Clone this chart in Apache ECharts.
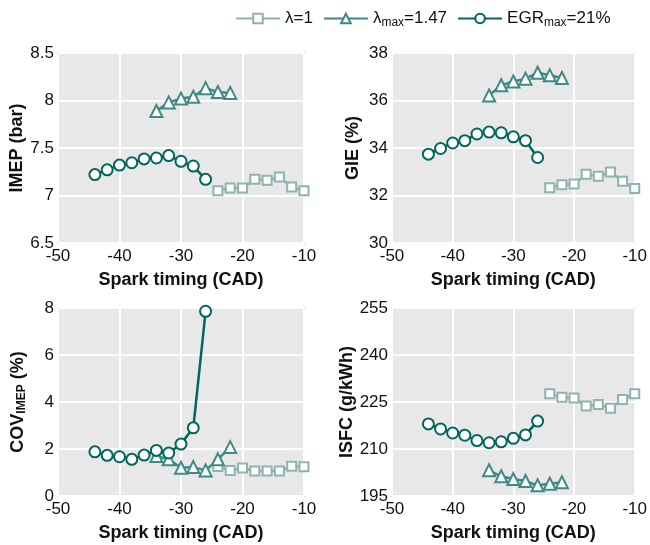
<!DOCTYPE html>
<html><head><meta charset="utf-8">
<script src="https://cdn.jsdelivr.net/npm/echarts@6/dist/echarts.min.js"></script>
<style>html,body{margin:0;padding:0;background:#fff}#c{width:650px;height:545px}</style>
</head><body><div id="c"></div>
<script>
// Spark timing (CAD) for each case
const sparkL1 = [-24, -22, -20, -18, -16, -14, -12, -10];
const sparkLmax = [-34, -32, -30, -28, -26, -24, -22];
const sparkEGR = [-44, -42, -40, -38, -36, -34, -32, -30, -28, -26];

// IMEP (bar)
const imepL1 = [7.05, 7.08, 7.08, 7.17, 7.16, 7.195, 7.09, 7.05];
const imepLmax = [7.89, 7.98, 8.02, 8.04, 8.13, 8.09, 8.08];
const imepEGR = [7.22, 7.27, 7.32, 7.345, 7.385, 7.395, 7.42, 7.36, 7.31, 7.17];

// GIE (%)
const gieL1 = [32.33, 32.45, 32.48, 32.89, 32.81, 32.99, 32.6, 32.3];
const gieLmax = [36.21, 36.64, 36.8, 36.92, 37.17, 37.06, 36.95];
const gieEGR = [33.74, 33.98, 34.21, 34.31, 34.59, 34.67, 34.64, 34.47, 34.31, 33.6];

// COV_IMEP (%)
const covL1 = [1.26, 1.09, 1.19, 1.06, 1.06, 1.06, 1.27, 1.25];
const covLmax = [1.7, 1.56, 1.2, 1.23, 1.09, 1.56, 2.08];
const covEGR = [1.88, 1.73, 1.67, 1.56, 1.74, 1.94, 1.83, 2.21, 2.9, 7.86];

// ISFC (g/kWh)
const isfcL1 = [227.6, 226.5, 226.3, 223.7, 224.2, 223.0, 225.8, 227.6];
const isfcLmax = [203.2, 201.3, 200.4, 199.8, 198.4, 198.9, 199.4];
const isfcEGR = [218.0, 216.4, 215.1, 214.4, 212.7, 212.0, 212.3, 213.4, 214.5, 218.9];

const xTicks = [-50, -40, -30, -20, -10];
const names = ['λ=1', 'λmax=1.47', 'EGRmax=21%'];
const colors = ['#8fb3ae', '#3f8a84', '#00665e'];

const zip = (xs, ys) => xs.map((x, i) => [x, ys[i]]);

const FONT = 'Liberation Sans, Arial, sans-serif';
const grids = [
  {left: 58, top: 53, width: 246, height: 190},
  {left: 392, top: 53, width: 248, height: 190},
  {left: 58, top: 308, width: 246, height: 188},
  {left: 392, top: 308, width: 248, height: 188}
].map(g => Object.assign(g, {show: true, backgroundColor: '#e8e8e8', borderColor: '#d3d3d3', borderWidth: 2, containLabel: false}));

const yConf = [
  {min: 6.5, max: 8.5, interval: 0.5, name: 'IMEP (bar)', fmt: v => v === 7 || v === 8 ? String(v) : v.toFixed(1)},
  {min: 30, max: 38, interval: 2, name: 'GIE (%)', fmt: v => String(v)},
  {min: 0, max: 8, interval: 2, name: 'COV{sub|IMEP} (%)', fmt: v => String(v)},
  {min: 195, max: 255, interval: 15, name: 'ISFC (g/kWh)', fmt: v => String(v)}
];

const xAxes = grids.map((g, i) => ({
  type: 'value', gridIndex: i, min: -50, max: -10, interval: 10,
  name: 'Spark timing (CAD)', nameLocation: 'middle', nameGap: 28,
  nameTextStyle: {fontFamily: FONT, fontWeight: 'bold', fontSize: 18, color: '#111'},
  axisLine: {show: false}, axisTick: {show: false},
  axisLabel: {fontFamily: FONT, fontSize: 17, color: '#111', margin: 5},
  splitLine: {show: true, lineStyle: {color: '#ffffff', width: 2}}
}));

const yAxes = yConf.map((c, i) => ({
  type: 'value', gridIndex: i, min: c.min, max: c.max, interval: c.interval,
  name: c.name, nameLocation: 'middle', nameGap: 30, nameRotate: 90,
  nameTextStyle: {fontFamily: FONT, fontWeight: 'bold', fontSize: 18, color: '#111',
    rich: {sub: {fontFamily: FONT, fontWeight: 'bold', fontSize: 12, color: '#111', verticalAlign: 'bottom', padding: [8, 0, 0, 0]}}},
  axisLine: {show: false}, axisTick: {show: false},
  axisLabel: {fontFamily: FONT, fontSize: 17, color: '#111', margin: 4, formatter: c.fmt},
  splitLine: {show: true, lineStyle: {color: '#ffffff', width: 2}}
}));

const dataSets = [
  [imepL1, imepLmax, imepEGR],
  [gieL1, gieLmax, gieEGR],
  [covL1, covLmax, covEGR],
  [isfcL1, isfcLmax, isfcEGR]
];
const xs = [sparkL1, sparkLmax, sparkEGR];
const symbols = ['emptyRect', 'emptyTriangle', 'emptyCircle'];
const sizes = [9, 12, 11];

const series = [];
dataSets.forEach((ds, gi) => {
  ds.forEach((ys, k) => {
    series.push({
      type: 'line', name: names[k], xAxisIndex: gi, yAxisIndex: gi,
      data: zip(xs[k], ys), symbol: symbols[k], symbolSize: sizes[k],
      color: colors[k],
      lineStyle: {color: colors[k], width: 2.5},
      itemStyle: {color: colors[k], borderWidth: 2.5, borderColor: colors[k]},
      z: 2 + k, animation: false
    });
  });
});

const chart = echarts.init(document.getElementById('c'), null, {renderer: 'canvas'});
chart.setOption({
  animation: false,
  grid: grids,
  xAxis: xAxes,
  yAxis: yAxes,
  legend: {
    left: 230, top: 5, itemWidth: 44, itemHeight: 12, itemGap: 10,
    data: names,
    formatter: n => n.replace('max', '{sub|max}'),
    textStyle: {fontFamily: FONT, fontSize: 17, color: '#111',
      rich: {sub: {fontFamily: FONT, fontSize: 12, color: '#111', verticalAlign: 'bottom', padding: [8, 0, 0, 0]}}}
  },
  series: series
});
</script></body></html>
